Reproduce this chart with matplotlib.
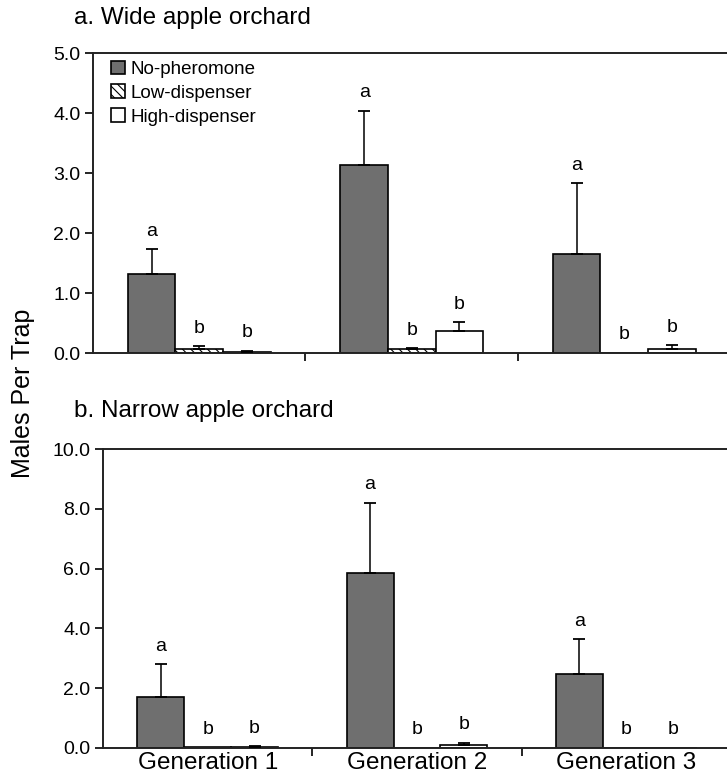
import numpy as np
from matplotlib import pyplot as plt

plt.rcParams.update({"font.family": ["Liberation Sans", "DejaVu Sans"],
                     "font.size": 13,
                     "hatch.color": "#555555",
                     "hatch.linewidth": 0.8})

# data
generations = ["Generation 1", "Generation 2", "Generation 3"]
treatments = ["No-pheromone", "Low-dispenser", "High-dispenser"]

wide_means = [[1.31, 3.14, 1.65],
              [0.07, 0.07, 0.0],
              [0.02, 0.36, 0.07]]
wide_err = [[0.42, 0.90, 1.18],
            [0.04, 0.01, 0.0],
            [0.02, 0.15, 0.06]]
wide_letters = [["a", "a", "a"], ["b", "b", "b"], ["b", "b", "b"]]

narrow_means = [[1.69, 5.84, 2.48],
                [0.02, 0.0, 0.0],
                [0.03, 0.11, 0.0]]
narrow_err = [[1.11, 2.37, 1.16],
              [0.0, 0.0, 0.0],
              [0.03, 0.07, 0.0]]
narrow_letters = [["a", "a", "a"], ["b", "b", "b"], ["b", "b", "b"]]

fills = ["#6f6f6f", "white", "white"]
hatches = [None, "\\\\\\\\", None]
bar_w = 0.224


def panel(ax, means, errs, letters, ymax, step):
    x = np.arange(len(generations))
    for i in range(len(treatments)):
        pos = x + (i - 1) * bar_w
        vals = np.array(means[i])
        err = np.array(errs[i])
        ax.bar(pos, vals, bar_w, color=fills[i], edgecolor="black", linewidth=1.2,
               hatch=hatches[i], label=treatments[i], zorder=2)
        show = err > 0
        ax.errorbar(pos[show], vals[show], yerr=[np.zeros(show.sum()), err[show]],
                    fmt="none", ecolor="black", elinewidth=1.1, capsize=4, capthick=1.3, zorder=3)
        for p, v, e, t in zip(pos, vals, err, letters[i]):
            ax.annotate(t, (p, v + e), xytext=(0, 13), textcoords="offset points",
                        ha="center", va="center", fontsize=14)
    ticks = np.arange(0, ymax + step / 2, step)
    ax.set_xlim(-0.5, 2.5)
    ax.set_ylim(0, ymax)
    ax.set_yticks(ticks)
    ax.set_yticklabels([f"{v:.1f}" for v in ticks], fontsize=14)
    ax.set_xticks([0.5, 1.5])
    ax.set_xticklabels([])
    ax.set_xticks(x, minor=True)
    ax.tick_params(axis="x", which="major", direction="out", length=6, width=1.2)
    ax.tick_params(axis="x", which="minor", length=0)
    ax.tick_params(axis="y", direction="out", length=6, width=1.2, pad=3)
    ax.spines["right"].set_visible(False)
    for s in ["top", "left", "bottom"]:
        ax.spines[s].set_linewidth(1.4)
        ax.spines[s].set_color("#222222")


fig = plt.figure(figsize=(7.27, 7.84), dpi=100)
ax1 = fig.add_axes([93 / 727, 1 - 353 / 784, (730.5 - 93) / 727, 300 / 784])
ax2 = fig.add_axes([103 / 727, 1 - 748 / 784, (731 - 103) / 727, 299 / 784])

panel(ax1, wide_means, wide_err, wide_letters, 5.0, 1.0)
panel(ax2, narrow_means, narrow_err, narrow_letters, 10.0, 2.0)
ax2.set_xticklabels(generations, minor=True, fontsize=17.5)
ax2.tick_params(axis="x", which="minor", pad=3)

leg = ax1.legend(loc="upper left", frameon=False, fontsize=13.5, handlelength=0.75,
                 handleheight=0.75, handletextpad=0.25, labelspacing=0.35,
                 borderaxespad=0.0, bbox_to_anchor=(0.017, 1.0))

fig.text(74 / 727, 1 - 7 / 784, "a. Wide apple orchard", fontsize=17.5, va="top", ha="left")
fig.text(74 / 727, 1 - 400 / 784, "b. Narrow apple orchard", fontsize=17.5, va="top", ha="left")
fig.text(23 / 727, 1 - 393 / 784, "Males Per Trap", fontsize=18, rotation=90,
         va="center", ha="center")

fig.savefig("out.png", dpi=100)
